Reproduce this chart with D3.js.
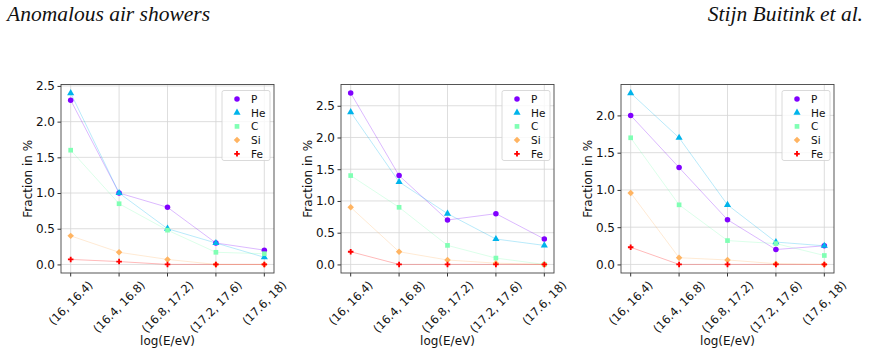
<!DOCTYPE html>
<html>
<head>
<meta charset="utf-8">
<script src="https://cdn.jsdelivr.net/npm/d3@7"></script>
<style>
  body { margin: 0; background: #fff; }
  svg { display: block; }
</style>
</head>
<body>
<div id="chart"></div>
<script>
// energy bins and species
const categories = ["(16, 16.4)", "(16.4, 16.8)", "(16.8, 17.2)", "(17.2, 17.6)", "(17.6, 18)"];
const species = ["P", "He", "C", "Si", "Fe"];
const colors = ["#8000ff", "#00b4eb", "#80ffb4", "#ffb462", "#ff0000"];

// fraction in % per species (rows in species order)
const panel1 = [
  [2.3, 1.0, 0.8, 0.3, 0.2],
  [2.4, 1.0, 0.5, 0.3, 0.1],
  [1.6, 0.85, 0.48, 0.17, 0.15],
  [0.4, 0.17, 0.07, 0.0, 0.0],
  [0.07, 0.04, 0.0, 0.0, 0.0]
];
const panel2 = [
  [2.7, 1.4, 0.7, 0.8, 0.4],
  [2.4, 1.3, 0.8, 0.4, 0.3],
  [1.4, 0.9, 0.3, 0.1, 0.0],
  [0.9, 0.2, 0.07, 0.02, 0.0],
  [0.2, 0.0, 0.0, 0.0, 0.0]
];
const panel3 = [
  [2.0, 1.3, 0.6, 0.2, 0.25],
  [2.3, 1.7, 0.8, 0.3, 0.25],
  [1.7, 0.8, 0.32, 0.28, 0.12],
  [0.96, 0.09, 0.06, 0.01, 0.0],
  [0.23, 0.0, 0.0, 0.0, 0.0]
];
const yTicks1 = [0, 0.5, 1.0, 1.5, 2.0, 2.5];
const yTicks2 = [0, 0.5, 1.0, 1.5, 2.0, 2.5];
const yTicks3 = [0, 0.5, 1.0, 1.5, 2.0];

const W = 869, H = 356;
const svg = d3.select("#chart").append("svg")
  .attr("width", W).attr("height", H)
  .style("font-family", "'DejaVu Sans', sans-serif");

// page header
svg.append("text")
  .attr("x", 7).attr("y", 21)
  .style("font-family", "'Liberation Serif', serif")
  .style("font-style", "italic")
  .style("font-size", "21.5px")
  .attr("fill", "#111")
  .text("Anomalous air showers");
svg.append("text")
  .attr("x", 863).attr("y", 21)
  .attr("text-anchor", "end")
  .style("font-family", "'Liberation Serif', serif")
  .style("font-style", "italic")
  .style("font-size", "21.5px")
  .attr("fill", "#111")
  .text("Stijn Buitink et al.");

const symbols = [d3.symbolCircle, d3.symbolTriangle, d3.symbolSquare, d3.symbolSquare, d3.symbolCross];
const symSize = [24, 22, 22, 21, 17];
const symRot = [0, 0, 0, 45, 0];

const plotW = 213, plotTop = 84.5, plotBottom = 273;
const panels = [
  { data: panel1, ticks: yTicks1, left: 61 },
  { data: panel2, ticks: yTicks2, left: 341 },
  { data: panel3, ticks: yTicks3, left: 621 }
];

panels.forEach(p => {
  const maxV = d3.max(p.data, r => d3.max(r));
  const x = d3.scaleLinear().domain([-0.2, categories.length - 1 + 0.2]).range([p.left, p.left + plotW]);
  const y = d3.scaleLinear().domain([-0.05 * maxV, maxV * 1.05]).range([plotBottom, plotTop]);
  const g = svg.append("g");

  // grid
  g.selectAll(".gx").data(categories).enter().append("line")
    .attr("x1", (d, i) => x(i)).attr("x2", (d, i) => x(i))
    .attr("y1", plotTop).attr("y2", plotBottom)
    .attr("stroke", "#d6d6d6").attr("stroke-width", 0.8);
  g.selectAll(".gy").data(p.ticks).enter().append("line")
    .attr("x1", p.left).attr("x2", p.left + plotW)
    .attr("y1", d => y(d)).attr("y2", d => y(d))
    .attr("stroke", "#d6d6d6").attr("stroke-width", 0.8);

  // y axis
  const yAxis = g.append("g")
    .attr("transform", `translate(${p.left},0)`)
    .call(d3.axisLeft(y).tickValues(p.ticks).tickFormat(d3.format(".1f")).tickSize(3.5).tickPadding(2.5));
  yAxis.select(".domain").remove();
  yAxis.selectAll("line").attr("stroke", "#333");
  yAxis.selectAll("text").style("font-size", "12px").attr("fill", "#111")
    .style("font-family", "'DejaVu Sans', sans-serif");

  // x ticks
  g.selectAll(".tx").data(categories).enter().append("line")
    .attr("x1", (d, i) => x(i)).attr("x2", (d, i) => x(i))
    .attr("y1", plotBottom).attr("y2", plotBottom + 3.5)
    .attr("stroke", "#333");
  g.selectAll(".lx").data(categories).enter().append("text")
    .style("font-size", "11.5px").attr("fill", "#111")
    .attr("text-anchor", "middle")
    .attr("dominant-baseline", "central")
    .text(d => d)
    .each(function(d, i) {
      const len = this.getComputedTextLength();
      const half = (len + 11) * Math.SQRT1_2 / 2;
      d3.select(this).attr("transform", `translate(${x(i)},${plotBottom + 6 + half}) rotate(-45)`);
    });

  // frame
  g.append("rect")
    .attr("x", p.left).attr("y", plotTop)
    .attr("width", plotW).attr("height", plotBottom - plotTop)
    .attr("fill", "none").attr("stroke", "#444").attr("stroke-width", 0.9);

  // series
  p.data.forEach((row, s) => {
    g.append("path")
      .datum(row)
      .attr("fill", "none")
      .attr("stroke", colors[s])
      .attr("stroke-opacity", 0.35)
      .attr("stroke-width", 0.8)
      .attr("d", d3.line().x((d, i) => x(i)).y(d => y(d)));
  });
  p.data.forEach((row, s) => {
    g.selectAll(null).data(row).enter().append("path")
      .attr("d", d3.symbol().type(symbols[s]).size(symSize[s]))
      .attr("transform", (d, i) => `translate(${x(i)},${y(d)}) rotate(${symRot[s]})`)
      .attr("fill", colors[s]);
  });

  // labels
  g.append("text")
    .attr("transform", `translate(${p.left - 29},${(plotTop + plotBottom) / 2}) rotate(-90)`)
    .attr("text-anchor", "middle")
    .style("font-size", "12px").attr("fill", "#111")
    .text("Fraction in %");
  g.append("text")
    .attr("x", p.left + plotW / 2).attr("y", 345)
    .attr("text-anchor", "middle")
    .style("font-size", "12px").attr("fill", "#111")
    .text("log(E/eV)");

  // legend
  const lx = p.left + plotW - 52, ly = plotTop + 6;
  const lg = g.append("g");
  lg.append("rect")
    .attr("x", lx).attr("y", ly).attr("width", 48).attr("height", 70)
    .attr("rx", 2)
    .attr("fill", "#fff").attr("fill-opacity", 0.8)
    .attr("stroke", "#d0d0d0").attr("stroke-width", 0.8);
  species.forEach((sp, s) => {
    const yy = ly + 8.5 + s * 13.7;
    lg.append("path")
      .attr("d", d3.symbol().type(symbols[s]).size(symSize[s]))
      .attr("transform", `translate(${lx + 15},${yy}) rotate(${symRot[s]})`)
      .attr("fill", colors[s]);
    lg.append("text")
      .attr("x", lx + 29).attr("y", yy)
      .attr("dominant-baseline", "central")
      .style("font-size", "10.5px").attr("fill", "#111")
      .text(sp);
  });
});
</script>
</body>
</html>
